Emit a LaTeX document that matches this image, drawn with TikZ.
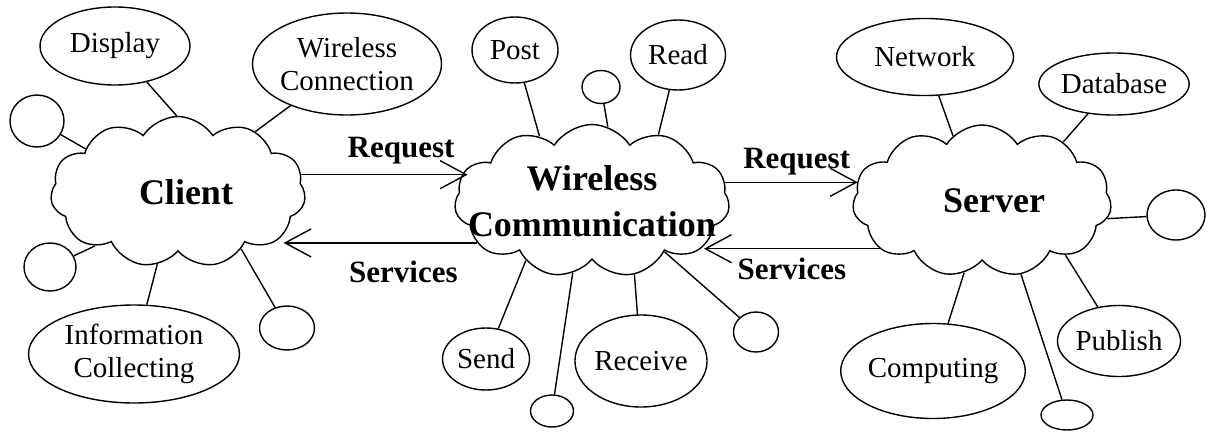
\documentclass[tikz,border=0pt]{standalone}
\usepackage{fontspec}
\setmainfont{Liberation Serif}
\usetikzlibrary{shapes.symbols,shapes.geometric,arrows.meta}

\begin{document}
\begin{tikzpicture}[x=1pt,y=-1pt,line width=1.4pt,
  main node/.style={cloud,draw,cloud puffs=11,cloud puff arc=115,cloud ignores aspect,inner sep=0pt},
  cloud text/.style={align=center,font=\fontsize{36}{46}\selectfont\bfseries},
  side node/.style={ellipse,draw,inner sep=0pt,align=center,font=\fontsize{29}{33}\selectfont},
  arrow label/.style={font=\fontsize{31}{36}\selectfont\bfseries},
  flow/.style={-{Straight Barb[length=26pt,width=28pt]}}]

  \useasboundingbox (0,0) rectangle (1207,431);

  \node[main node,minimum width=255pt,minimum height=151pt,label={[cloud text,xshift=8pt]center:Client}] (client) at (178,192) {};
  \node[main node,minimum width=275pt,minimum height=153pt,label={[cloud text]center:{Wireless\\Communication}}] (wc) at (592,201) {};
  \node[main node,minimum width=259pt,minimum height=152pt,label={[cloud text,xshift=12pt]center:Server}] (server) at (982,201) {};

  \node[side node,minimum width=150pt,minimum height=78pt] (disp) at (115,46) {Display};
  \node[side node,minimum width=179pt,minimum height=102pt] (wconn) at (347,64) {Wireless\\Connection};
  \node[side node,minimum width=54pt,minimum height=52pt] (c1) at (37,121) {};
  \node[side node,minimum width=52pt,minimum height=48pt] (c2) at (50,267) {};
  \node[side node,minimum width=211pt,minimum height=98pt] (info) at (134,354) {Information\\Collecting};
  \node[side node,minimum width=55pt,minimum height=44pt] (c3) at (287,328) {};

  \node[side node,minimum width=86pt,minimum height=66pt] (post) at (515,50) {Post};
  \node[side node,minimum width=95pt,minimum height=70pt] (read) at (678,55) {Read};
  \node[side node,minimum width=38pt,minimum height=33pt] (c4) at (601,87) {};
  \node[side node,minimum width=87pt,minimum height=62pt] (send) at (486,359) {Send};
  \node[side node,minimum width=43pt,minimum height=32pt] (c5) at (552,411) {};
  \node[side node,minimum width=127pt,minimum height=92pt] (recv) at (641,361) {Receive};
  \node[side node,minimum width=45pt,minimum height=40pt] (c6) at (756,332) {};

  \node[side node,minimum width=177pt,minimum height=77pt] (net) at (925,57) {Network};
  \node[side node,minimum width=147pt,minimum height=62pt] (db) at (1114,84) {Database};
  \node[side node,minimum width=58pt,minimum height=50pt] (c7) at (1176,215) {};
  \node[side node,minimum width=120pt,minimum height=71pt] (pub) at (1119,341) {Publish};
  \node[side node,minimum width=167pt,minimum height=95pt] (comp) at (933,371) {Computing};
  \node[side node,minimum width=52pt,minimum height=30pt] (c8) at (1067,415) {};

  \path
  (disp) edge (client.91)
  (wconn) edge (client.38)
  (c1) edge (client.155)
  (c2) edge (client.213)
  (info) edge (client.254)
  (c3) edge (client.318)
  (post) edge (wc.129)
  (c4) edge (wc.78)
  (read) edge (wc.45)
  (send) edge (wc.222)
  (c5) edge (wc.255)
  (recv) edge (wc.300)
  (c6) edge (wc.325)
  (net) edge (server.114)
  (db) edge (server.36)
  (c7) edge (server.352)
  (pub) edge (server.327)
  (comp) edge (server.256)
  (c8) edge (server.298);

  \path
  (client.8) edge[flow] node[arrow label,above=7pt,pos=0.6] {Request} (wc.165 |- client.8)
  (wc.200) edge[flow] node[arrow label,below=14pt,pos=0.38] {Services} (client.338 |- wc.200)
  (wc.8) edge[flow] node[arrow label,above=3pt,pos=0.54] {Request} (server.170 |- wc.8)
  (server.205) edge[flow] node[arrow label,below=5pt,pos=0.5] {Services} (wc.338 |- server.205);
\end{tikzpicture}
\end{document}
